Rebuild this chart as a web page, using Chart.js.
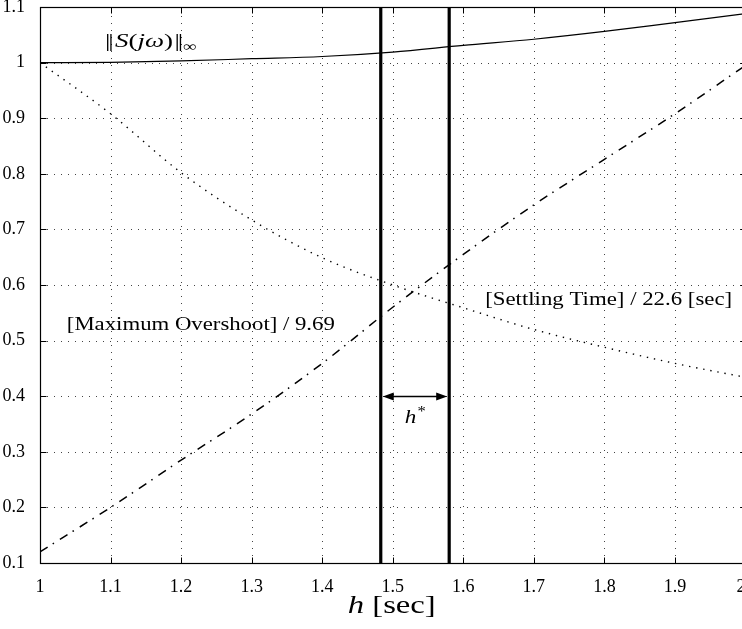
<!DOCTYPE html>
<html><head><meta charset="utf-8">
<script src="https://cdn.jsdelivr.net/npm/chart.js@4"></script>
<style>
html,body{margin:0;padding:0;background:#fff;overflow:hidden;width:742px;height:629px}
#wrap{position:relative;width:760px;height:629px}
</style></head>
<body><div id="wrap"><canvas id="c" width="760" height="629"></canvas></div>
<script>
// ---- data ----
const hValues   = [1.0, 1.1, 1.2, 1.3, 1.4, 1.5, 1.6, 1.7, 1.8, 1.9, 2.0];
const sNorm     = [1.000, 1.0005, 1.003, 1.007, 1.011, 1.019, 1.031, 1.042, 1.056, 1.072, 1.088];
const overshoot = [0.120, 0.200, 0.285, 0.368, 0.459, 0.560, 0.655, 0.744, 0.826, 0.908, 0.995];
const settling  = [1.000, 0.908, 0.802, 0.717, 0.649, 0.600, 0.559, 0.520, 0.488, 0.459, 0.434];
const hStarBounds = [1.483, 1.580];
const arrowLevel = 0.4;
const xTicks = [1, 1.1, 1.2, 1.3, 1.4, 1.5, 1.6, 1.7, 1.8, 1.9, 2];
const yTicks = [0.1, 0.2, 0.3, 0.4, 0.5, 0.6, 0.7, 0.8, 0.9, 1, 1.1];
const xTickLabels = ['1','1.1','1.2','1.3','1.4','1.5','1.6','1.7','1.8','1.9','2'];
const yTickLabels = ['0.1','0.2','0.3','0.4','0.5','0.6','0.7','0.8','0.9','1','1.1'];

const SERIF = '"Liberation Serif", "Times New Roman", serif';
const pts = arr => hValues.map((h, i) => ({x: h, y: arr[i]}));
const vline = h => [{x: h, y: yTicks[0]}, {x: h, y: yTicks[yTicks.length - 1]}];

function drawRich(ctx, parts, x, y, size, targetWidth, align) {
  const fontFor = p => {
    const s = p.sub || p.sup ? size * 0.72 : size;
    return (p.it ? 'italic ' : '') + s + 'px ' + SERIF;
  };
  let w = 0;
  parts.forEach(p => { ctx.font = fontFor(p); w += ctx.measureText(p.t).width + (p.gap || 0); });
  const sx = targetWidth ? targetWidth / w : 1;
  ctx.save();
  ctx.textBaseline = 'middle';
  ctx.fillStyle = '#000';
  let x0 = x;
  if (align === 'center') x0 = x - w * sx / 2;
  ctx.translate(x0, y);
  ctx.scale(sx, 1);
  let cx = 0;
  parts.forEach(p => {
    ctx.font = fontFor(p);
    let dy = 0;
    if (p.sub) dy = size * 0.3;
    if (p.sup) dy = -size * 0.3;
    ctx.fillText(p.t, cx, dy);
    cx += ctx.measureText(p.t).width + (p.gap || 0);
  });
  ctx.restore();
}

const framePlugin = {
  id: 'frame',
  beforeDatasetsDraw(chart) {
    const {ctx, chartArea: a, scales: {x, y}} = chart;
    ctx.save();
    ctx.strokeStyle = '#444';
    ctx.lineWidth = 1;
    ctx.setLineDash([1, 6]);
    xTicks.forEach(v => {
      const px = Math.round(x.getPixelForValue(v)) + 0.5;
      ctx.beginPath(); ctx.moveTo(px, a.bottom); ctx.lineTo(px, a.top); ctx.stroke();
    });
    yTicks.forEach(v => {
      const py = Math.round(y.getPixelForValue(v)) + 0.5;
      ctx.beginPath(); ctx.moveTo(a.left, py); ctx.lineTo(a.right, py); ctx.stroke();
    });
    ctx.restore();
  },
  afterDatasetsDraw(chart) {
    const {ctx, chartArea: a, scales: {x, y}} = chart;
    ctx.save();
    ctx.strokeStyle = '#000';
    ctx.lineWidth = 1.2;
    ctx.setLineDash([]);
    const L = Math.round(a.left) + 0.5, R = Math.round(a.right) + 0.5;
    const T = Math.round(a.top) + 0.5, B = Math.round(a.bottom) + 0.5;
    ctx.strokeRect(L, T, R - L, B - T);
    ctx.lineWidth = 1;
    const tl = 6;
    xTicks.forEach(v => {
      const px = Math.round(x.getPixelForValue(v)) + 0.5;
      ctx.beginPath(); ctx.moveTo(px, B); ctx.lineTo(px, B - tl); ctx.stroke();
      ctx.beginPath(); ctx.moveTo(px, T); ctx.lineTo(px, T + tl); ctx.stroke();
    });
    yTicks.forEach(v => {
      const py = Math.round(y.getPixelForValue(v)) + 0.5;
      ctx.beginPath(); ctx.moveTo(L, py); ctx.lineTo(L + tl, py); ctx.stroke();
      ctx.beginPath(); ctx.moveTo(R, py); ctx.lineTo(R - tl, py); ctx.stroke();
    });
    // double arrow for h*
    const x1 = x.getPixelForValue(hStarBounds[0]) + 2;
    const x2 = x.getPixelForValue(hStarBounds[1]) - 2;
    const ya = Math.round(y.getPixelForValue(arrowLevel)) + 0.5;
    ctx.lineWidth = 1.5;
    ctx.beginPath(); ctx.moveTo(x1 + 6, ya); ctx.lineTo(x2 - 6, ya); ctx.stroke();
    ctx.fillStyle = '#000';
    ctx.beginPath(); ctx.moveTo(x1, ya); ctx.lineTo(x1 + 11, ya - 4); ctx.lineTo(x1 + 11, ya + 4); ctx.closePath(); ctx.fill();
    ctx.beginPath(); ctx.moveTo(x2, ya); ctx.lineTo(x2 - 11, ya - 4); ctx.lineTo(x2 - 11, ya + 4); ctx.closePath(); ctx.fill();
    ctx.restore();

    // text annotations
    drawRich(ctx, [{t: '|', gap: -1.5}, {t: '|', gap: 1}, {t: 'S', it: true}, {t: '('}, {t: 'j', it: true}, {t: '\u03C9', it: true}, {t: ')', gap: 1},
                   {t: '|', gap: -1.5}, {t: '|'}, {t: '\u221E', sub: true}],
      x.getPixelForValue(1.092), y.getPixelForValue(1.037), 19, 92, 'left');
    drawRich(ctx, [{t: '[Maximum Overshoot] / 9.69'}],
      x.getPixelForValue(1.038), y.getPixelForValue(0.528), 18, 268, 'left');
    drawRich(ctx, [{t: '[Settling Time] / 22.6 [sec]'}],
      x.getPixelForValue(1.631), y.getPixelForValue(0.573), 18, 247, 'left');
    drawRich(ctx, [{t: 'h', it: true, gap: 1}, {t: '*', sup: true}],
      x.getPixelForValue(1.532), y.getPixelForValue(0.361), 19, 21, 'center');
    // axis title
    drawRich(ctx, [{t: 'h', it: true}, {t: ' [sec]'}],
      x.getPixelForValue(1.5) - 1, 606, 25, 88, 'center');
  }
};

const chart = new Chart(document.getElementById('c'), {
  type: 'line',
  data: {
    datasets: [
      {data: pts(sNorm), borderColor: '#000', borderWidth: 1.2, pointRadius: 0, cubicInterpolationMode: 'monotone'},
      {data: pts(settling), borderColor: '#000', borderWidth: 1.4, borderDash: [1.4, 5.8], pointRadius: 0, cubicInterpolationMode: 'monotone'},
      {data: pts(overshoot), borderColor: '#000', borderWidth: 1.5, borderDash: [9, 6, 1.5, 7], pointRadius: 0, cubicInterpolationMode: 'monotone'},
      {data: vline(hStarBounds[0]), borderColor: '#000', borderWidth: 3.2, pointRadius: 0},
      {data: vline(hStarBounds[1]), borderColor: '#000', borderWidth: 3.2, pointRadius: 0}
    ]
  },
  options: {
    responsive: false,
    animation: false,
    devicePixelRatio: 1,
    layout: {padding: {left: 0, top: 7, right: 14.5, bottom: 0}},
    plugins: {legend: {display: false}, tooltip: {enabled: false}},
    scales: {
      x: {
        type: 'linear', min: 1, max: 2,
        grid: {display: false}, border: {display: false},
        afterBuildTicks: s => { s.ticks = xTicks.map(v => ({value: v})); },
        afterFit: s => { s.height = 66; s.paddingLeft = 0; s.paddingRight = 0; },
        ticks: {
          autoSkip: false, maxRotation: 0, padding: 5, color: '#000',
          font: {family: SERIF, size: 18},
          callback: (v, i) => i === xTickLabels.length - 1 ? xTickLabels[i] + '\u2002' : xTickLabels[i]
        }
      },
      y: {
        type: 'linear', min: 0.1, max: 1.1,
        grid: {display: false}, border: {display: false},
        afterBuildTicks: s => { s.ticks = yTicks.map(v => ({value: v})); },
        afterFit: s => { s.width = 40; s.paddingTop = 0; s.paddingBottom = 0; },
        ticks: {
          autoSkip: false, padding: 7, color: '#000',
          font: {family: SERIF, size: 18},
          callback: (v, i) => yTickLabels[i]
        }
      }
    }
  },
  plugins: [framePlugin]
});
</script>
</body></html>
